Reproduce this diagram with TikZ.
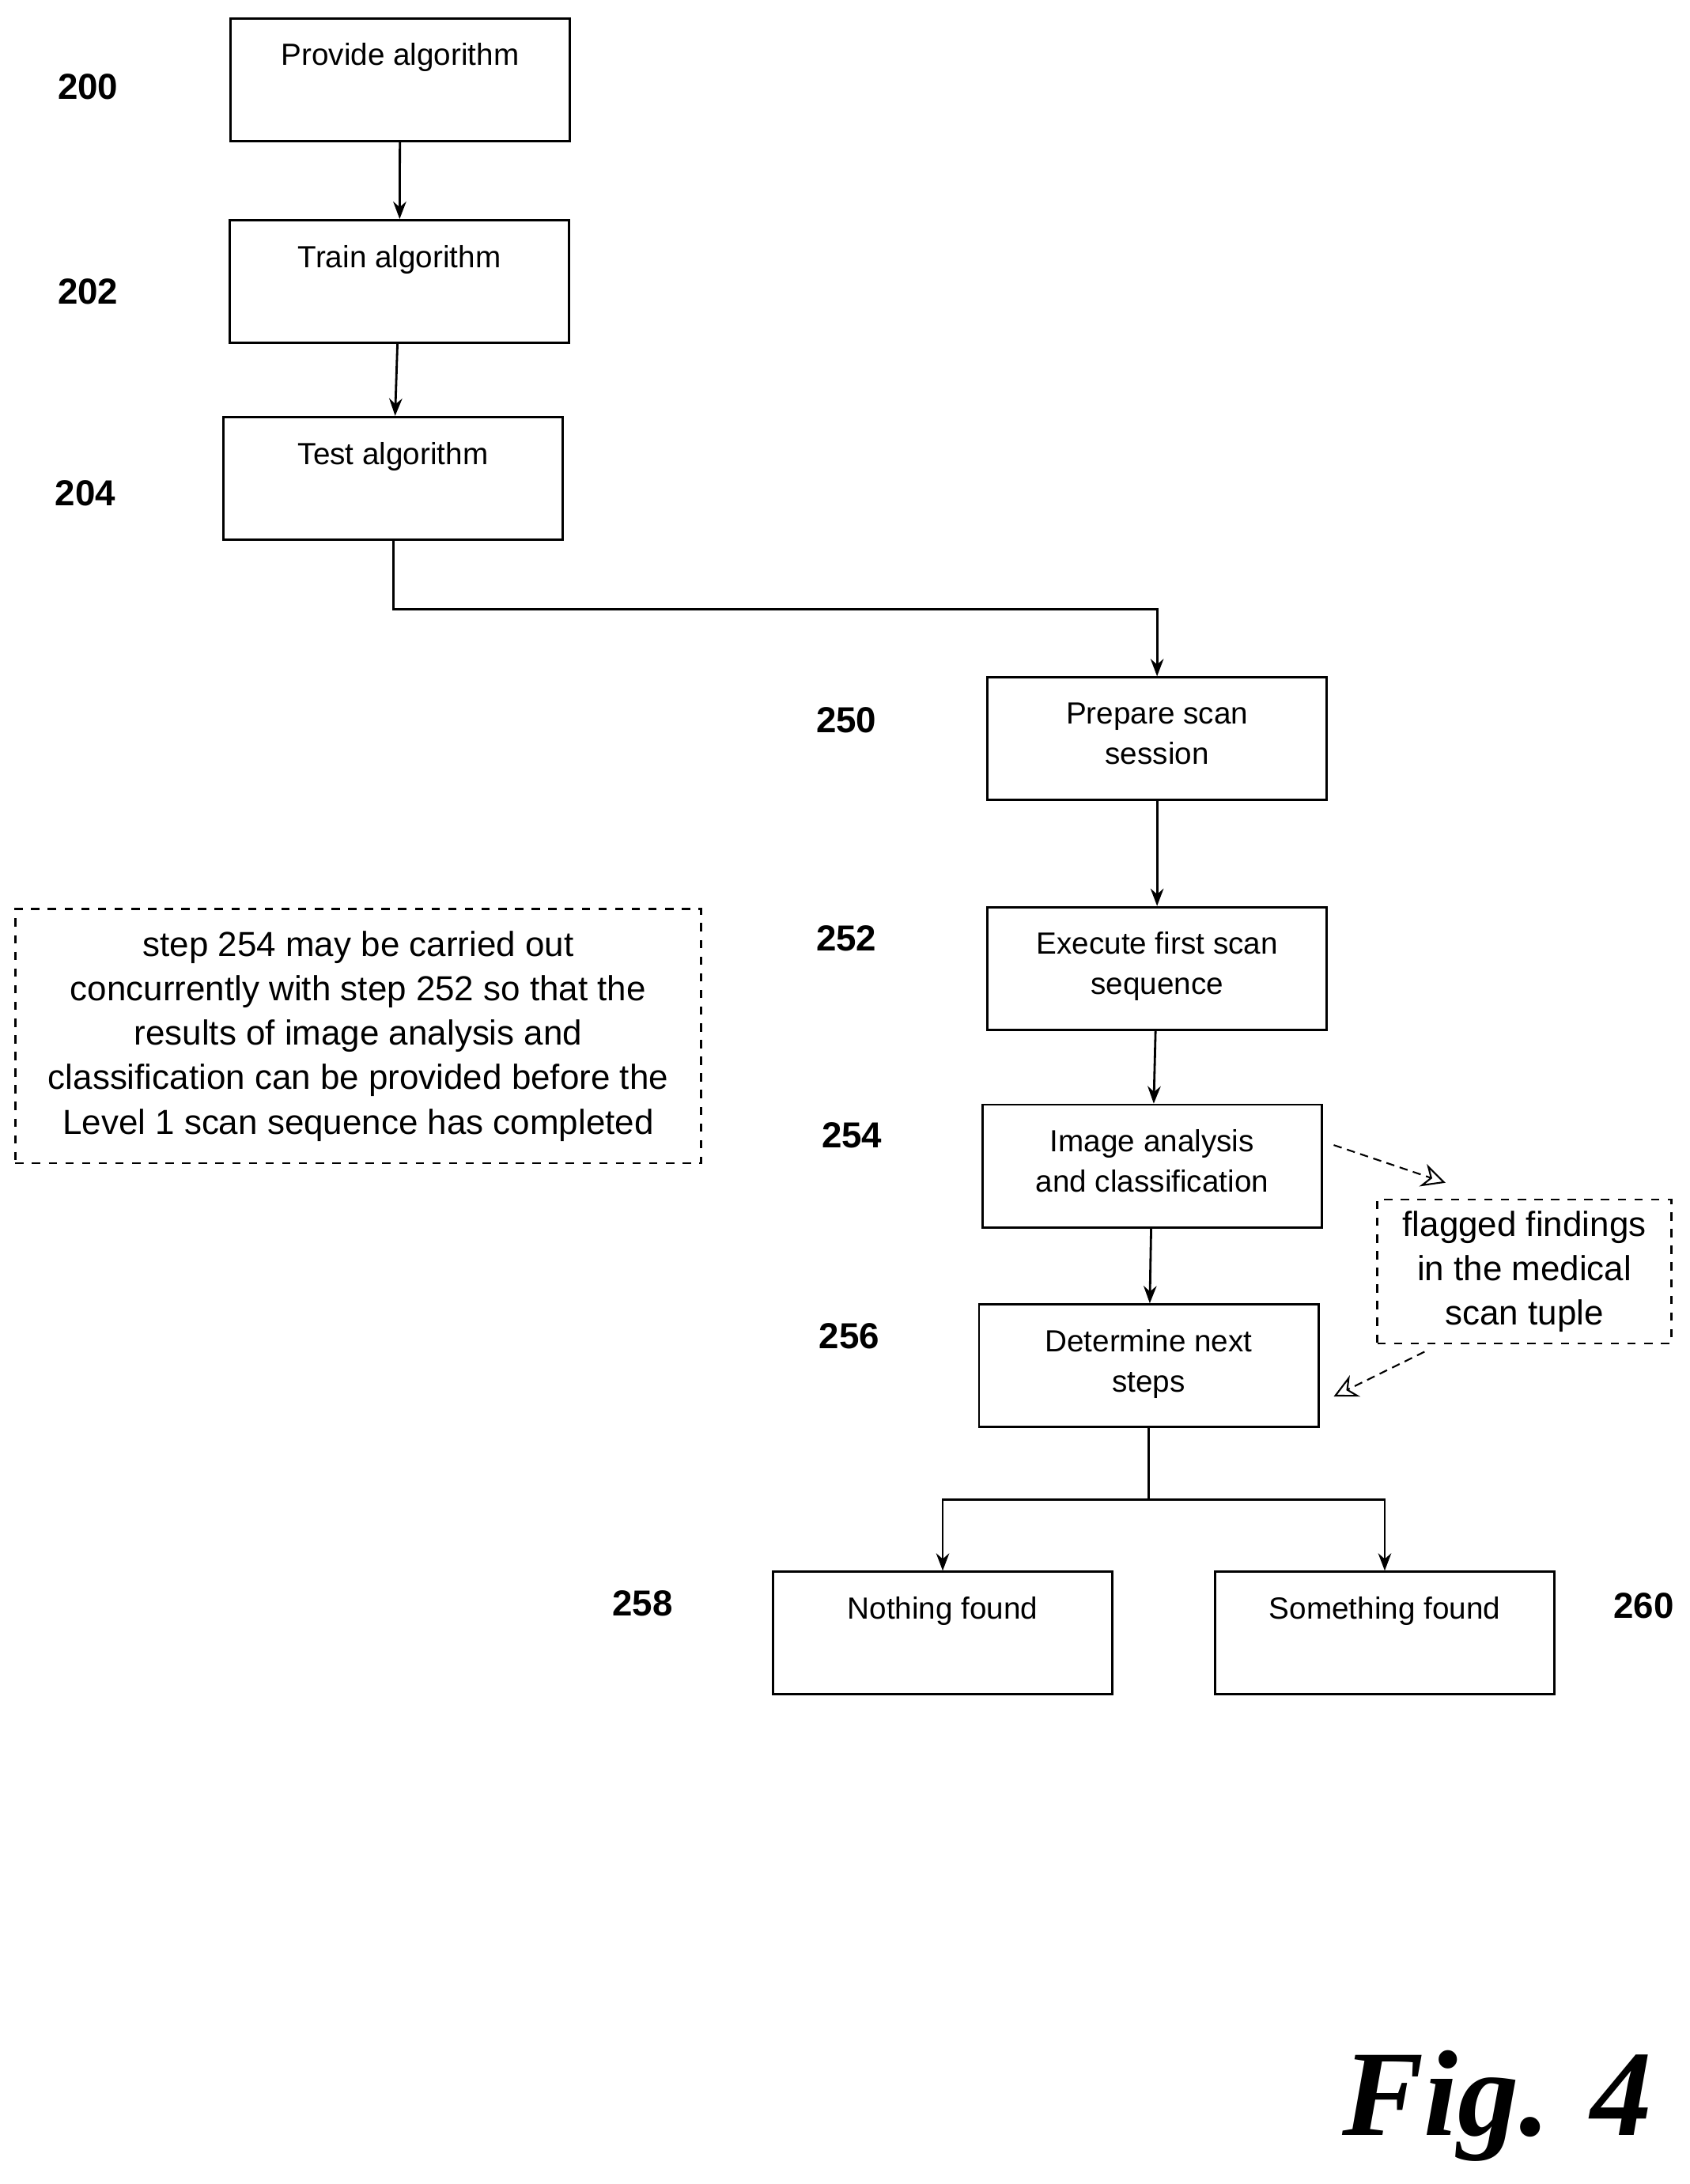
\documentclass[tikz,border=0pt]{standalone}
\usepackage{fontspec}
\setmainfont{Liberation Sans}
\newfontfamily\figfont{Liberation Serif}
\usetikzlibrary{arrows.meta}
\tikzset{
  box/.style={draw, minimum width=4.29cm, minimum height=1.55cm},
  txt/.style={anchor=north, yshift=-0.2cm, align=center, font=\fontsize{11}{14.5}\selectfont},
  num/.style={font=\bfseries\fontsize{13}{15}\selectfont},
  note/.style={draw, dashed, align=center},
  flow/.style={-{Stealth[length=2.2mm]}},
  hint/.style={densely dashed, -{Stealth[open, length=3mm, width=3mm]}}
}
\begin{document}
\begin{tikzpicture}[x=0.01765cm, y=-0.01765cm, thick]
\path (0,0) rectangle (1210,1564);
\node [box, label={[txt]north:Provide algorithm}] (a200) at (286.5,57) {};
\node [box, label={[txt]north:Train algorithm}] (a202) at (286,201.5) {};
\node [box, label={[txt]north:Test algorithm}] (a204) at (281.5,342.5) {};
\node [box, label={[txt]north:Prepare scan\\session}] (a250) at (828.5,529) {};
\node [box, label={[txt]north:Execute first scan\\sequence}] (a252) at (828.5,693.5) {};
\node [box, label={[txt]north:Image analysis\\and classification}] (a254) at (825,835) {};
\node [box, label={[txt]north:Determine next\\steps}] (a256) at (822.5,978) {};
\node [box, label={[txt]north:Nothing found}] (a258) at (675,1169.5) {};
\node [box, label={[txt]north:Something found}] (a260) at (991.5,1169.5) {};

\node [num] at (63,62) {200};
\node [num] at (63,209) {202};
\node [num] at (61,353) {204};
\node [num] at (606,516) {250};
\node [num] at (606,672) {252};
\node [num] at (610,813) {254};
\node [num] at (608,957) {256};
\node [num] at (460,1148) {258};
\node [num] at (1177,1150) {260};

\node [note, minimum width=8.67cm, minimum height=3.21cm, font=\fontsize{12.5}{16}\selectfont] (remark) at (256.5,742)
  {step 254 may be carried out\\concurrently with step 252 so that the\\results of image analysis and\\classification can be provided before the\\Level 1 scan sequence has completed};
\node [note, minimum width=3.72cm, minimum height=1.82cm, font=\fontsize{12.5}{16}\selectfont] (flag) at (1091.5,910.5)
  {flagged findings\\in the medical\\scan tuple};

\draw[flow] (a200) -- (a202);
\draw[flow] (a202) -- (a204);
\draw[flow] (a204.south) -- ++(0,49) -| (a250.north);
\draw[flow] (a250) -- (a252);
\draw[flow] (a252) -- (a254);
\draw[flow] (a254) -- (a256);
\draw[flow] (a256.south) -- ++(0,51) -| (a258.north);
\draw[flow] (a256.south) -- ++(0,51) -| (a260.north);

\coordinate (h1) at (955,820);
\coordinate (h2) at (1035,847);
\coordinate (h3) at (1020,968);
\coordinate (h4) at (955,1000);
\draw[hint, semithick] (h1) -- (h2);
\draw[hint, semithick] (h3) -- (h4);

\node [font=\figfont\bfseries\itshape\fontsize{44}{48}\selectfont] (fig) at (1072,1508) {Fig. 4};
\end{tikzpicture}
\end{document}
